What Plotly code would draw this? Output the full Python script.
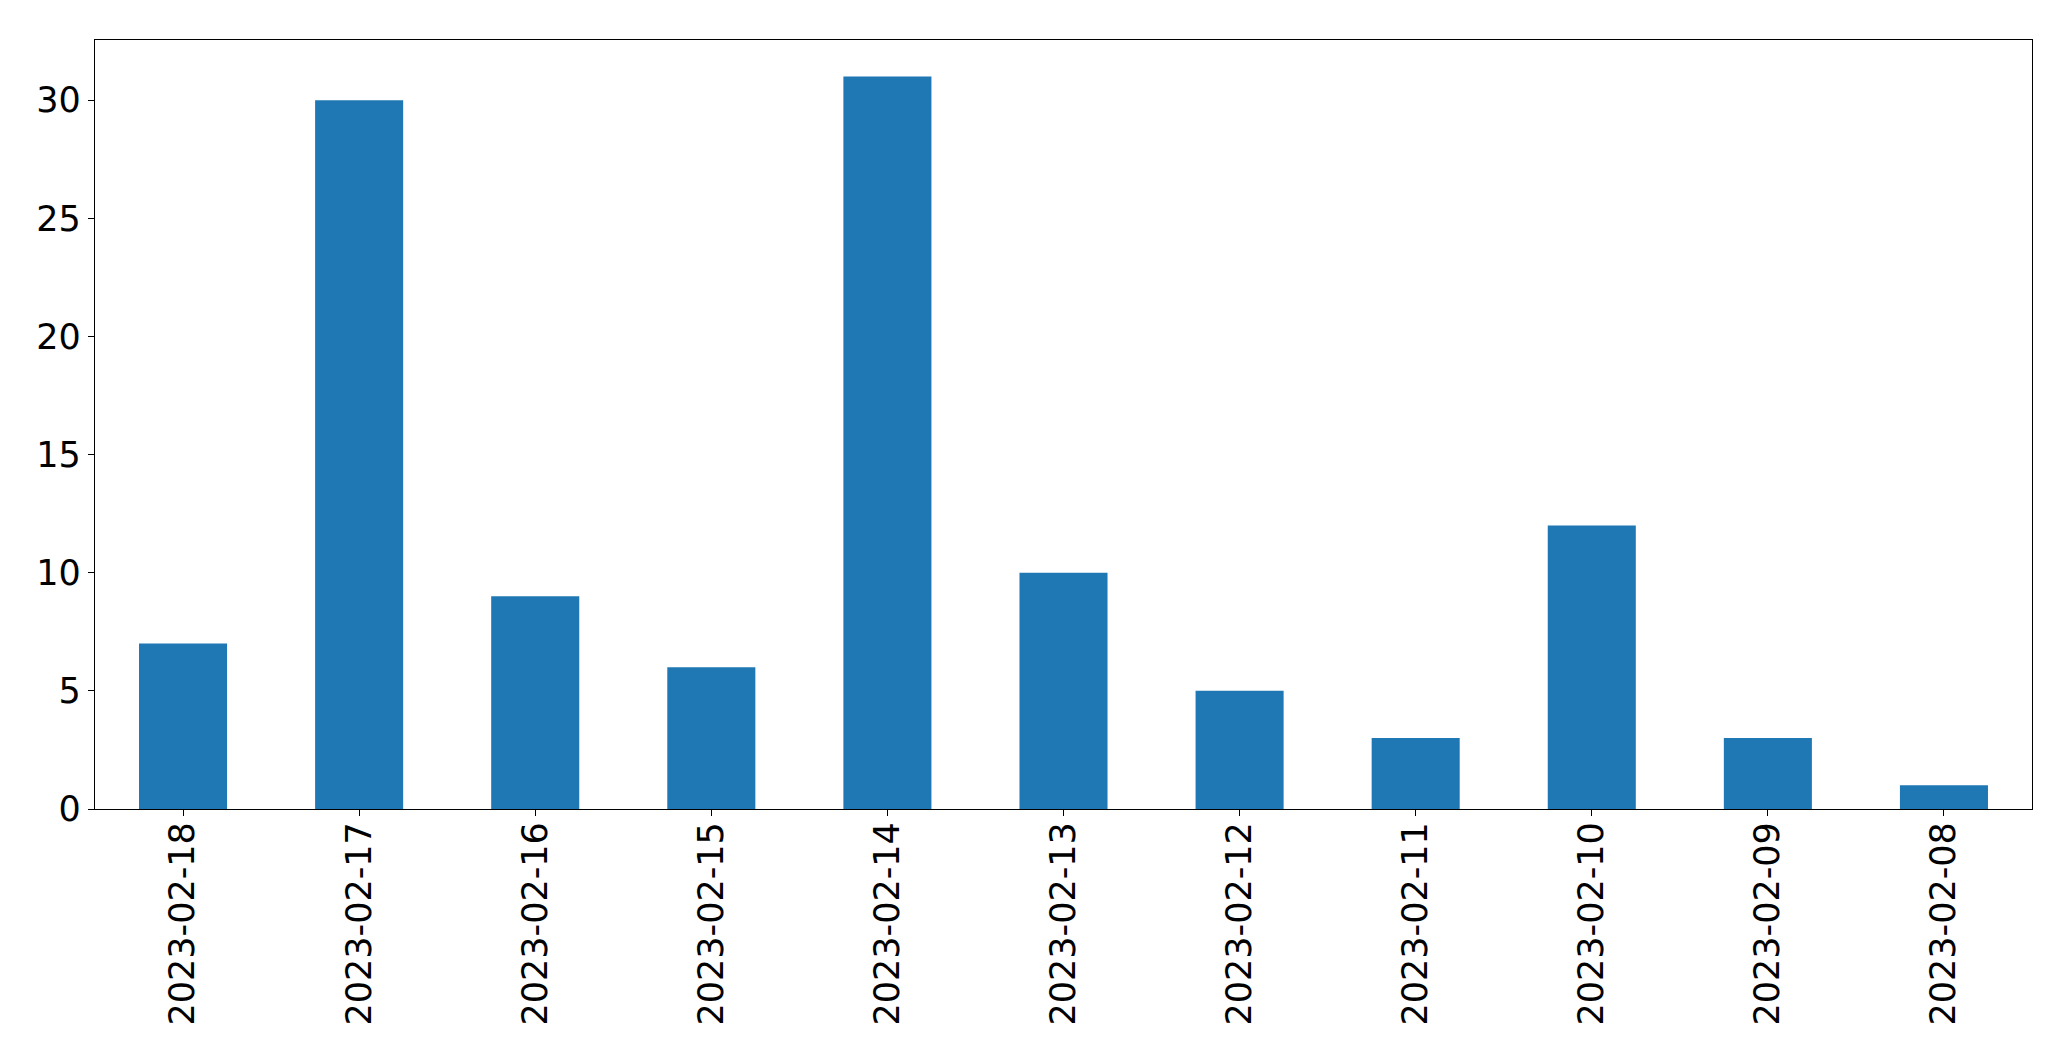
import plotly.graph_objects as go

dates = ["2023-02-18", "2023-02-17", "2023-02-16", "2023-02-15", "2023-02-14",
         "2023-02-13", "2023-02-12", "2023-02-11", "2023-02-10", "2023-02-09", "2023-02-08"]
counts = [7, 30, 9, 6, 31, 10, 5, 3, 12, 3, 1]

fig = go.Figure(go.Bar(x=dates, y=counts, width=0.5, marker=dict(color="#1f77b4", line=dict(width=0))))

font = dict(family="DejaVu Sans", size=35, color="black")
fig.update_layout(
    width=2055, height=1045,
    margin=dict(l=87, r=31, t=32, b=244, pad=0),
    paper_bgcolor="white", plot_bgcolor="white",
    showlegend=False,
    font=font,
)
fig.update_xaxes(
    type="category", range=[-0.5, 10.5], tickangle=-90,
    showline=True, mirror=True, linecolor="black", linewidth=1.3,
    ticks="outside", ticklen=6, tickwidth=1.3, tickcolor="black",
    showgrid=False, tickfont=font, ticklabelstandoff=-8,
)
fig.update_yaxes(
    range=[0, 32.55], tickvals=[0, 5, 10, 15, 20, 25, 30],
    showline=True, mirror=True, linecolor="black", linewidth=1.3,
    ticks="outside", ticklen=6, tickwidth=1.3, tickcolor="black",
    showgrid=False, zeroline=False, tickfont=font,
)
fig.write_html("out.html")
